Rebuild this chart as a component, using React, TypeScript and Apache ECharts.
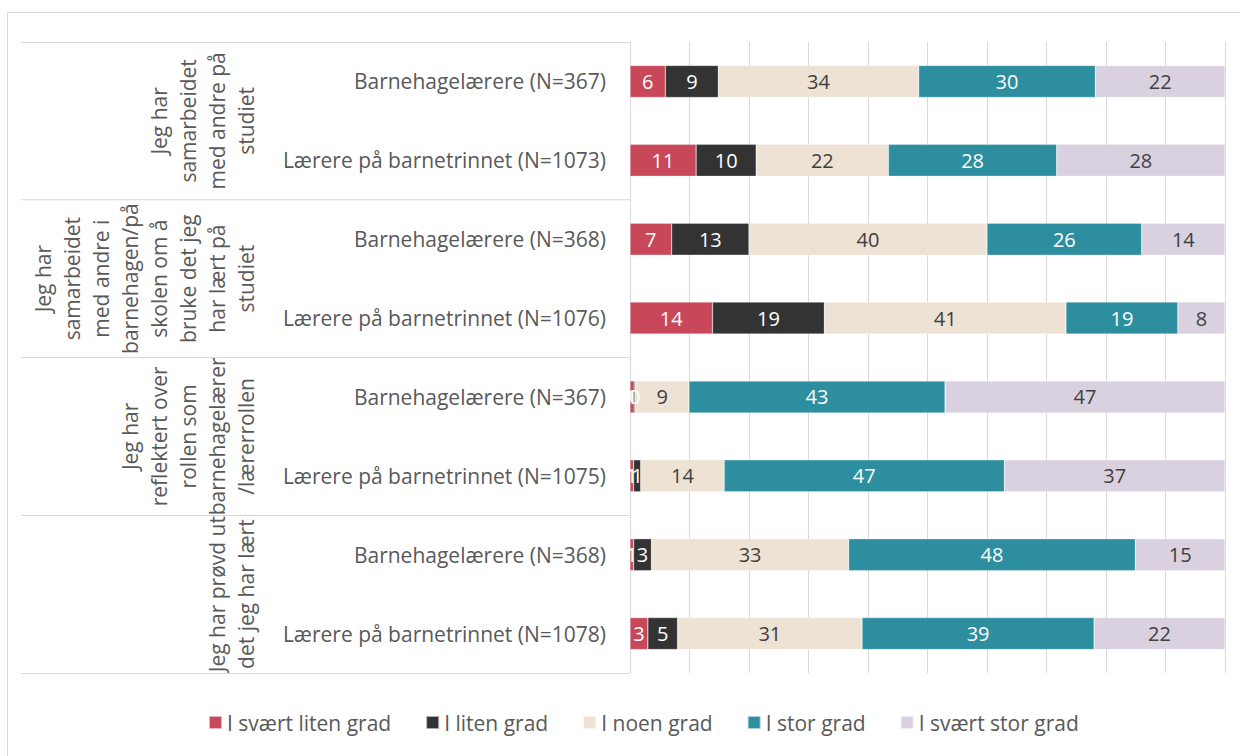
import React, { useEffect, useRef } from "react";
import * as echarts from "echarts";

const categories = [
  "Barnehagelærere (N=367)",
  "Lærere på barnetrinnet (N=1073)",
  "Barnehagelærere (N=368)",
  "Lærere på barnetrinnet (N=1076)",
  "Barnehagelærere (N=367)",
  "Lærere på barnetrinnet (N=1075)",
  "Barnehagelærere (N=368)",
  "Lærere på barnetrinnet (N=1078)",
];

const groups = [
  "Jeg har\nsamarbeidet\nmed andre på\nstudiet",
  "Jeg har\nsamarbeidet\nmed andre i\nbarnehagen/på\nskolen om å\nbruke det jeg\nhar lært på\nstudiet",
  "Jeg har\nreflektert over\nrollen som\nbarnehagelærer\n/lærerrollen",
  "Jeg har prøvd ut\ndet jeg har lært",
];

const seriesNames = [
  "I svært liten grad",
  "I liten grad",
  "I noen grad",
  "I stor grad",
  "I svært stor grad",
];

const sværtLiten = [6, 11, 7, 14, 0.7, 0.6, 0.6, 3];
const liten = [9, 10, 13, 19, 0.2, 1.2, 3, 5];
const noen = [34, 22, 40, 41, 9, 14, 33, 31];
const stor = [30, 28, 26, 19, 43, 47, 48, 39];
const sværtStor = [22, 28, 14, 8, 47, 37, 15, 22];

const colors = ["#C8485A", "#333333", "#EDE2D4", "#2D8E9F", "#D9D1E0"];
const labelColors = ["#ffffff", "#ffffff", "#404040", "#ffffff", "#404040"];

const FONT = "Open Sans";

export default function App() {
  const ref = useRef<HTMLDivElement>(null);
  useEffect(() => {
    if (!ref.current) return;
    const chart = echarts.init(ref.current, undefined, { renderer: "svg" });
    const all = [sværtLiten, liten, noen, stor, sværtStor];
    const totals = categories.map((_, i) => all.reduce((s, arr) => s + arr[i], 0));
    const keys = categories.map((_, i) => "c" + i);

    const series = all.map((arr, si) => ({
      name: seriesNames[si],
      type: "bar",
      stack: "total",
      yAxisIndex: 0,
      barWidth: 32,
      itemStyle: { color: colors[si], borderColor: "rgba(255,255,255,0.6)", borderWidth: 0.5 },
      label: {
        show: true,
        position: "inside",
        color: labelColors[si],
        fontFamily: FONT,
        fontSize: 20,
        formatter: (p: any) => String(Math.round(p.data.raw)),
      },
      data: arr.map((v, i) => ({ value: (v / totals[i]) * 100, raw: v })),
    }));

    chart.setOption({
      animation: false,
      grid: { left: 630, right: 15, top: 42, bottom: 83, containLabel: false },
      legend: {
        bottom: 18,
        left: 203,
        icon: "rect",
        itemWidth: 13,
        itemHeight: 13,
        itemGap: 34,
        textStyle: { fontFamily: FONT, fontSize: 21, color: "#595959" },
        data: seriesNames,
      },
      xAxis: {
        type: "value",
        min: 0,
        max: 100,
        interval: 10,
        axisLine: { show: false },
        axisTick: { show: false },
        axisLabel: { show: false },
        splitLine: { show: true, lineStyle: { color: "#d9d9d9", width: 1 } },
      },
      yAxis: [
        {
          type: "category",
          data: keys,
          inverse: true,
          position: "left",
          axisLine: { show: true, lineStyle: { color: "#d9d9d9" } },
          axisTick: { show: false },
          axisLabel: {
            margin: 24,
            fontFamily: FONT,
            fontSize: 21,
            color: "#595959",
            formatter: (v: string) => categories[Number(v.slice(1))],
          },
        },
        {
          type: "category",
          data: groups.map((_, i) => "g" + i),
          inverse: true,
          position: "left",
          axisLine: { show: false },
          axisTick: { show: true, length: 609, lineStyle: { color: "#d9d9d9" } },
          axisLabel: { show: false },
          splitLine: { show: false },
        },
      ],
      series,
    });

    const graphic: any[] = [
      {
        type: "rect",
        silent: true,
        shape: { x: 7.5, y: 12.5, width: 1260, height: 800 },
        style: { fill: "none", stroke: "#d9d9d9", lineWidth: 1 },
      },
    ];
    groups.forEach((g, i) => {
      const y = chart.convertToPixel({ yAxisIndex: 1 } as any, "g" + i) as number;
      graphic.push({
        type: "text",
        x: 260,
        y,
        rotation: Math.PI / 2,
        silent: true,
        style: {
          text: g,
          fontFamily: FONT,
          fontSize: 21,
          lineHeight: 29,
          fill: "#595959",
          align: "center",
          verticalAlign: "bottom",
        },
      });
    });
    chart.setOption({ graphic });

    return () => chart.dispose();
  }, []);
  return (
    <div
      ref={ref}
      style={{ position: "fixed", left: 0, top: 0, width: 1240, height: 756, background: "#fff" }}
    />
  );
}
